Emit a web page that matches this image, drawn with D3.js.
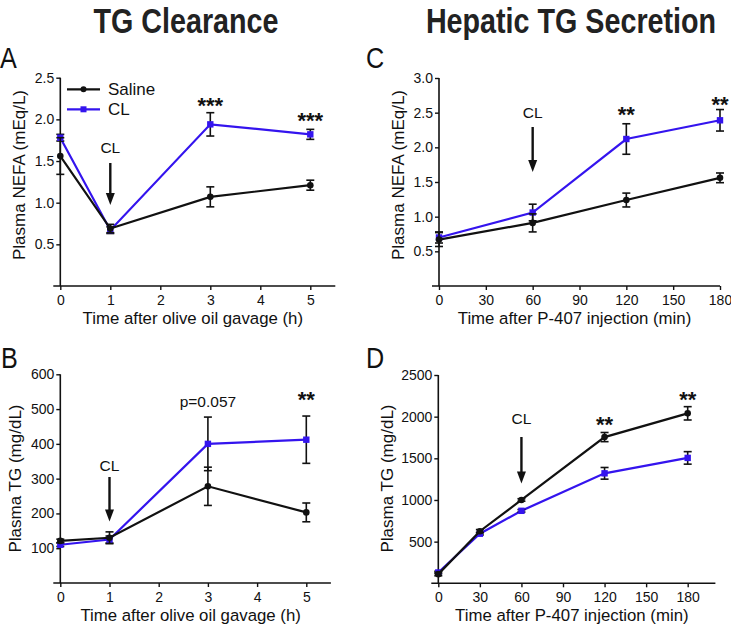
<!DOCTYPE html>
<html><head><meta charset="utf-8">
<script src="https://cdn.jsdelivr.net/npm/d3@7"></script>
<style>
html,body{margin:0;padding:0;background:#fff;}
svg{display:block;font-family:"Liberation Sans",Arial,sans-serif;}
</style></head>
<body>
<svg id="c" width="731" height="632"></svg>
<script>
// ---------- data ----------
const hoursAB = [0, 1, 3, 5];
const minutesC = [0, 60, 120, 180];
const minutesD = [0, 30, 60, 120, 180];

const nefaSalineA = [1.56, 0.69, 1.07, 1.21];
const nefaSalineAErr = [0.22, 0.05, 0.12, 0.06];
const nefaCLA = [1.78, 0.67, 1.94, 1.82];
const nefaCLAErr = [0.04, 0.04, 0.14, 0.06];

const tgSalineB = [121, 130, 278, 203];
const tgSalineBErr = [5, 17, 55, 27];
const tgCLB = [110, 125, 400, 412];
const tgCLBErr = [5, 10, 77, 68];

const nefaSalineC = [0.67, 0.91, 1.24, 1.56];
const nefaSalineCErr = [0.10, 0.13, 0.10, 0.07];
const nefaCLC = [0.70, 1.06, 2.12, 2.39];
const nefaCLCErr = [0.08, 0.12, 0.22, 0.155];

const tgSalineD = [110, 625, 1000, 1755, 2040];
const tgSalineDErr = [20, 20, 15, 55, 80];
const tgCLD = [130, 595, 870, 1320, 1505];
const tgCLDErr = [15, 15, 15, 70, 75];

const xTicksAB = [0, 1, 2, 3, 4, 5];
const xTicksCD = [0, 30, 60, 90, 120, 150, 180];
const yTicksA = [0.5, 1.0, 1.5, 2.0, 2.5];
const yTicksB = [100, 200, 300, 400, 500, 600];
const yTicksC = [0.5, 1.0, 1.5, 2.0, 2.5, 3.0];
const yTicksD = [500, 1000, 1500, 2000, 2500];

const seriesNames = ["Saline", "CL"];
const columnTitles = ["TG Clearance", "Hepatic TG Secretion"];
const xTitleAB = "Time after olive oil gavage (h)";
const xTitleCD = "Time after P-407 injection (min)";
const yTitleNEFA = "Plasma NEFA (mEq/L)";
const yTitleTG = "Plasma TG (mg/dL)";

// significance labels: [x value, label]
const sigA = [[3, "***"], [5, "***"]];
const sigB = [[3, "p=0.057"], [5, "**"]];
const sigC = [[120, "**"], [180, "**"]];
const sigD = [[120, "**"], [180, "**"]];

const BLUE = "#3414ee";
const svg = d3.select("#c");

// ---------- titles ----------
function title(txt, cx, by) {
  svg.append("g").attr("transform", `translate(${cx},${by}) scale(0.82,1)`)
    .append("text").attr("text-anchor", "middle").attr("font-weight", "bold")
    .attr("font-size", 35).attr("fill", "#222").text(txt);
}
title(columnTitles[0], 186, 33);
title(columnTitles[1], 571, 33);

// ---------- panel ----------
function panel(cfg) {
  const x = d3.scaleLinear().domain(cfg.xDomain).range([cfg.x0, cfg.x1]);
  const y = d3.scaleLinear().domain(cfg.yDomain).range([cfg.y0, cfg.y1]);
  const g = svg.append("g");

  // panel letter
  g.append("g").attr("transform", `translate(${cfg.letterX},${cfg.letterY}) scale(0.9,1.05)`)
    .append("text").attr("font-size", 28).attr("fill", "#111").text(cfg.letter);

  // axes
  const yAxis = d3.axisLeft(y).tickValues(cfg.yTicks).tickSize(4).tickPadding(2)
    .tickFormat(cfg.yFmt);
  const ya = g.append("g").attr("transform", `translate(${cfg.x0},0)`).call(yAxis);
  ya.select(".domain").remove();
  ya.append("line").attr("x1", 0).attr("x2", 0).attr("y1", cfg.y0).attr("y2", cfg.y1)
    .attr("stroke", "#111").attr("stroke-width", 1.6);
  const xAxis = d3.axisBottom(x).tickValues(cfg.xTicks).tickSize(4).tickPadding(5)
    .tickFormat(d3.format("d"));
  const xa = g.append("g").attr("transform", `translate(0,${cfg.y0})`).call(xAxis);
  xa.select(".domain").remove();
  xa.append("line").attr("x1", cfg.x0 - 7).attr("x2", cfg.x1).attr("y1", 0).attr("y2", 0)
    .attr("stroke", "#111").attr("stroke-width", 1.6);
  [ya, xa].forEach(a => {
    a.selectAll(".tick line").attr("stroke", "#111").attr("stroke-width", 1.4);
    a.selectAll(".tick text").attr("font-size", 14).attr("fill", "#111")
      .attr("font-family", "Liberation Sans, Arial, sans-serif");
  });

  // axis titles
  g.append("text").attr("x", (cfg.x0 + cfg.x1) / 2 - 5).attr("y", cfg.y0 + 37.5)
    .attr("text-anchor", "middle").attr("font-size", 16.8).attr("fill", "#111").text(cfg.xTitle);
  g.append("text").attr("transform", `translate(${cfg.yTitleX},${cfg.yTitleY}) rotate(-90)`)
    .attr("text-anchor", "middle").attr("font-size", 17).attr("fill", "#111").text(cfg.yTitle);

  // series
  const line = d3.line().x(d => x(d[0])).y(d => y(d[1]));
  function drawSeries(xs, vals, errs, color, shape) {
    const pts = xs.map((v, i) => [v, vals[i], errs[i]]);
    g.append("path").datum(pts).attr("d", line).attr("fill", "none")
      .attr("stroke", color).attr("stroke-width", 2.2);
    const eb = g.append("g").attr("stroke", "#111").attr("stroke-width", 1.6);
    pts.forEach(p => {
      const cx = x(p[0]), t = y(p[1] + p[2]), b = y(p[1] - p[2]);
      eb.append("line").attr("x1", cx).attr("x2", cx).attr("y1", t).attr("y2", b);
      eb.append("line").attr("x1", cx - 4).attr("x2", cx + 4).attr("y1", t).attr("y2", t);
      eb.append("line").attr("x1", cx - 4).attr("x2", cx + 4).attr("y1", b).attr("y2", b);
    });
    if (shape === "circle") {
      g.selectAll(null).data(pts).enter().append("circle")
        .attr("cx", d => x(d[0])).attr("cy", d => y(d[1])).attr("r", 3.3).attr("fill", color);
    } else {
      g.selectAll(null).data(pts).enter().append("rect")
        .attr("x", d => x(d[0]) - 3.2).attr("y", d => y(d[1]) - 3.2)
        .attr("width", 6.4).attr("height", 6.4).attr("fill", color);
    }
  }
  drawSeries(cfg.xs, cfg.cl, cfg.clErr, BLUE, "square");
  drawSeries(cfg.xs, cfg.saline, cfg.salineErr, "#111", "circle");

  // significance labels
  cfg.sig.forEach((s, i) => {
    const isStar = /^\*+$/.test(s[1]);
    g.append("text").attr("x", x(s[0])).attr("y", cfg.sigY[i])
      .attr("text-anchor", "middle").attr("fill", "#111")
      .attr("font-size", isStar ? 22 : 15.5).attr("font-weight", isStar ? "bold" : "normal")
      .text(s[1]);
  });

  // CL arrow
  const ax = x(cfg.arrowX);
  g.append("text").attr("x", ax).attr("y", cfg.clTextY).attr("text-anchor", "middle")
    .attr("font-size", 15.5).attr("fill", "#111").text("CL");
  g.append("line").attr("x1", ax).attr("x2", ax).attr("y1", cfg.arrowY0).attr("y2", cfg.arrowY1 - 10)
    .attr("stroke", "#111").attr("stroke-width", 2.4);
  g.append("path").attr("d", `M${ax - 4.5},${cfg.arrowY1 - 12} L${ax + 4.5},${cfg.arrowY1 - 12} L${ax},${cfg.arrowY1} Z`)
    .attr("fill", "#111");

  return { x, y, g };
}

const A = panel({
  letter: "A", letterX: 0, letterY: 68,
  xDomain: [0, 5.5], x0: 60.3, x1: 335.3, yDomain: [0, 2.5], y0: 286, y1: 77.7,
  xTicks: xTicksAB, yTicks: yTicksA, yFmt: d3.format(".1f"),
  xTitle: xTitleAB, yTitle: yTitleNEFA, yTitleX: 25, yTitleY: 175,
  xs: hoursAB, saline: nefaSalineA, salineErr: nefaSalineAErr, cl: nefaCLA, clErr: nefaCLAErr,
  sig: sigA, sigY: [112.5, 127.5], arrowX: 1, clTextY: 153, arrowY0: 163, arrowY1: 205
});
const B = panel({
  letter: "B", letterX: 1, letterY: 368,
  xDomain: [0, 5.5], x0: 60.3, x1: 330.9, yDomain: [0, 600], y0: 583, y1: 374.3,
  xTicks: xTicksAB, yTicks: yTicksB, yFmt: d3.format("d"),
  xTitle: xTitleAB, yTitle: yTitleTG, yTitleX: 21, yTitleY: 478.5,
  xs: hoursAB, saline: tgSalineB, salineErr: tgSalineBErr, cl: tgCLB, clErr: tgCLBErr,
  sig: sigB, sigY: [407.3, 406.5], arrowX: 1, clTextY: 471, arrowY0: 477, arrowY1: 521.5
});
const C = panel({
  letter: "C", letterX: 366, letterY: 68,
  xDomain: [0, 180], x0: 439, x1: 720, yDomain: [0, 3], y0: 286, y1: 78,
  xTicks: xTicksCD, yTicks: yTicksC, yFmt: d3.format(".1f"),
  xTitle: xTitleCD, yTitle: yTitleNEFA, yTitleX: 404, yTitleY: 175,
  xs: minutesC, saline: nefaSalineC, salineErr: nefaSalineCErr, cl: nefaCLC, clErr: nefaCLCErr,
  sig: sigC, sigY: [121.5, 111.5], arrowX: 60, clTextY: 117.5, arrowY0: 127, arrowY1: 172
});
const D = panel({
  letter: "D", letterX: 366, letterY: 368,
  xDomain: [0, 200], x0: 438.3, x1: 715.4, yDomain: [0, 2500], y0: 583.3, y1: 375,
  xTicks: xTicksCD, yTicks: yTicksD, yFmt: d3.format("d"),
  xTitle: xTitleCD, yTitle: yTitleTG, yTitleX: 393, yTitleY: 478.5,
  xs: minutesD, saline: tgSalineD, salineErr: tgSalineDErr, cl: tgCLD, clErr: tgCLDErr,
  sig: sigD, sigY: [431.5, 406.5], arrowX: 60, clTextY: 423.5, arrowY0: 437, arrowY1: 483.5
});

// ---------- legend (panel A) ----------
const leg = svg.append("g");
[[seriesNames[0], "#111", "circle", 89.3], [seriesNames[1], BLUE, "square", 109.3]].forEach(l => {
  leg.append("line").attr("x1", 67).attr("x2", 100).attr("y1", l[3]).attr("y2", l[3])
    .attr("stroke", l[1]).attr("stroke-width", 2.2);
  if (l[2] === "circle") leg.append("circle").attr("cx", 83.5).attr("cy", l[3]).attr("r", 3).attr("fill", l[1]);
  else leg.append("rect").attr("x", 80.5).attr("y", l[3] - 3).attr("width", 6).attr("height", 6).attr("fill", l[1]);
  leg.append("text").attr("x", 108).attr("y", l[3] + 6).attr("font-size", 17).attr("fill", "#111").text(l[0]);
});
</script>
</body></html>
